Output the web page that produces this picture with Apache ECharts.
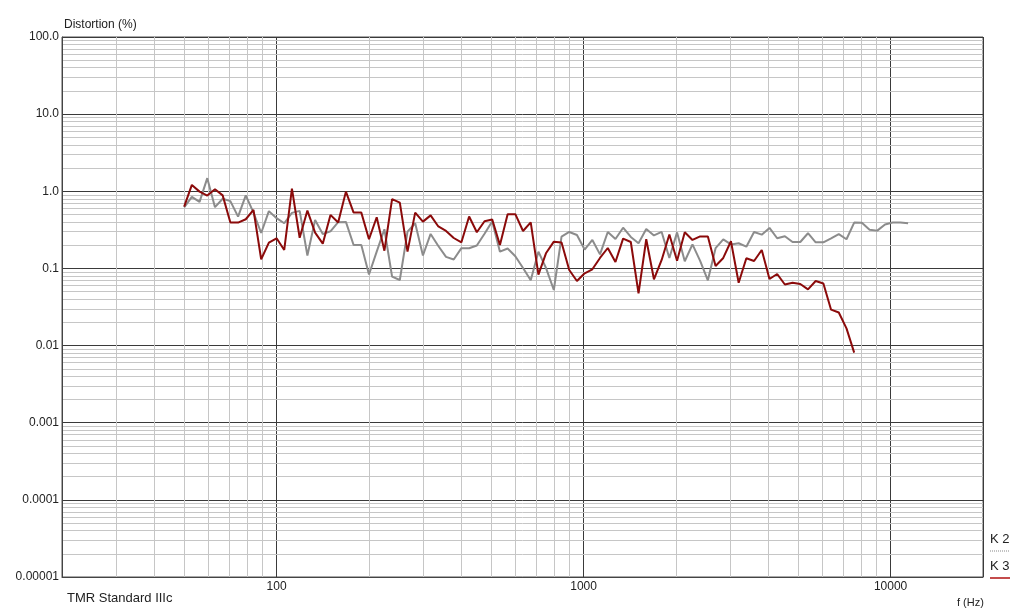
<!DOCTYPE html>
<html>
<head>
<meta charset="utf-8">
<script src="https://cdn.jsdelivr.net/npm/echarts@6/dist/echarts.min.js"></script>
<style>
html,body{margin:0;padding:0;background:#fff;}
#chart{width:1024px;height:613px;}
</style>
</head>
<body>
<div id="chart"></div>
<script>
// Frequencies (Hz), 1/12-octave points
const freqs = [50, 52.97, 56.12, 59.46, 63, 66.74, 70.71, 74.92, 79.37, 84.09, 89.09, 94.39,
  100, 105.9, 112.2, 118.9, 126, 133.5, 141.4, 149.8, 158.7, 168.2, 178.2, 188.8,
  200, 211.9, 224.5, 237.8, 252, 267, 282.8, 299.7, 317.5, 336.4, 356.4, 377.6,
  400, 423.8, 449, 475.7, 504, 534, 565.7, 599.3, 635, 672.7, 712.7, 755.1,
  800, 847.6, 898, 951.4, 1008, 1068, 1131, 1199, 1270, 1345, 1425, 1510,
  1600, 1695, 1796, 1903, 2016, 2136, 2263, 2397, 2540, 2691, 2851, 3020,
  3200, 3390, 3592, 3805, 4032, 4271, 4525, 4794, 5080, 5382, 5702, 6041,
  6400, 6781, 7184, 7611, 8063, 8543, 9051, 9589, 10159, 10763, 11404];

// K2 distortion (%)
const k2 = [0.618, 0.846, 0.729, 1.479, 0.622, 0.80, 0.746, 0.47, 0.885, 0.529, 0.288, 0.553,
  0.448, 0.385, 0.525, 0.557, 0.147, 0.425, 0.28, 0.303, 0.398, 0.401, 0.2015, 0.2015,
  0.0835, 0.165, 0.322, 0.0782, 0.0708, 0.30, 0.385, 0.147, 0.28, 0.1955, 0.141, 0.1306,
  0.183, 0.183, 0.1985, 0.282, 0.407, 0.165, 0.181, 0.144, 0.1014, 0.0702, 0.165, 0.1004,
  0.0525, 0.258, 0.297, 0.2716, 0.1757, 0.234, 0.152, 0.297, 0.241, 0.337, 0.256, 0.212,
  0.325, 0.268, 0.297, 0.1367, 0.293, 0.124, 0.2047, 0.125, 0.0702, 0.183, 0.2375, 0.2047,
  0.212, 0.1915, 0.297, 0.274, 0.335, 0.246, 0.2615, 0.220, 0.220, 0.286, 0.218, 0.218,
  0.245, 0.2785, 0.239, 0.393, 0.390, 0.318, 0.309, 0.3715, 0.393, 0.393, 0.385];

// K3 distortion (%)
const k3 = [0.633, 1.21, 0.99, 0.88, 1.06, 0.885, 0.393, 0.393, 0.434, 0.574, 0.1315, 0.216,
  0.246, 0.1735, 1.084, 0.25, 0.562, 0.291, 0.2095, 0.494, 0.393, 0.99, 0.529, 0.529,
  0.239, 0.461, 0.170, 0.79, 0.713, 0.165, 0.529, 0.404, 0.487, 0.350, 0.306, 0.248,
  0.218, 0.472, 0.294, 0.409, 0.43, 0.2015, 0.505, 0.505, 0.306, 0.395, 0.083, 0.1587,
  0.2225, 0.217, 0.0955, 0.0687, 0.0865, 0.0975, 0.1367, 0.184, 0.121, 0.243, 0.220, 0.0476,
  0.239, 0.0723, 0.1288, 0.276, 0.126, 0.294, 0.234, 0.26, 0.26, 0.1076, 0.1367, 0.225,
  0.0653, 0.1355, 0.125, 0.1735, 0.073, 0.0847, 0.0619, 0.0653, 0.0629, 0.0536, 0.0687, 0.0638,
  0.0292, 0.0268, 0.0167, 0.0081];

const yTickLabels = ['0.00001', '0.0001', '0.001', '0.01', '0.1', '1.0', '10.0', '100.0'];
const xTickLabels = ['100', '1000', '10000'];

const xMin = 20, xMax = 20000, yMin = 0.00001, yMax = 100;

// minor grid positions (2..9 of each decade)
const minorX = [];
[10, 100, 1000, 10000].forEach(d => { for (let k = 2; k <= 9; k++) { const v = d * k; if (v > xMin && v < xMax) minorX.push(v); } });
const minorY = [];
[1e-5, 1e-4, 1e-3, 1e-2, 1e-1, 1, 10].forEach(d => { for (let k = 2; k <= 9; k++) minorY.push(parseFloat((d * k).toPrecision(6))); });

const minorLines = minorX.map(v => ({coords: [[v, yMin], [v, yMax]]}))
  .concat(minorY.map(v => ({coords: [[xMin, v], [xMax, v]]})));

const chart = echarts.init(document.getElementById('chart'), null, {renderer: 'canvas'});
const font = 'Liberation Sans, Arial, sans-serif';

function isDecade(v) {
  const l = Math.log10(v);
  return Math.abs(l - Math.round(l)) < 1e-6;
}

chart.setOption({
  animation: false,
  backgroundColor: '#ffffff',
  grid: {left: 62, right: 41, top: 37, bottom: 36, show: true, borderColor: '#555', borderWidth: 1, backgroundColor: 'transparent'},
  xAxis: {
    type: 'log', logBase: 10, min: xMin, max: xMax,
    axisLine: {show: true, lineStyle: {color: '#444', width: 1}},
    axisTick: {show: false},
    splitLine: {show: true, lineStyle: {color: '#3a3a3a', width: 1}},
    axisLabel: {
      color: '#222', fontFamily: font, fontSize: 12, margin: 4,
      formatter: v => {
        if (!isDecade(v)) return '';
        const e = Math.round(Math.log10(v));
        return (e >= 2 && e <= 4) ? xTickLabels[e - 2] : '';
      }
    }
  },
  yAxis: {
    type: 'log', logBase: 10, min: yMin, max: yMax,
    axisLine: {show: true, lineStyle: {color: '#444', width: 1}},
    axisTick: {show: false},
    splitLine: {show: true, lineStyle: {color: '#3a3a3a', width: 1}},
    axisLabel: {
      color: '#222', fontFamily: font, fontSize: 12, margin: 3,
      formatter: v => {
        if (!isDecade(v)) return '';
        const e = Math.round(Math.log10(v));
        return yTickLabels[e + 5] || '';
      }
    }
  },
  series: [
    {
      name: 'minorGrid', type: 'lines', coordinateSystem: 'cartesian2d',
      silent: true, z: 0, zlevel: 0,
      lineStyle: {color: '#c6c6c6', width: 1, opacity: 1},
      data: minorLines
    },
    {
      name: 'K 2', type: 'line', z: 3,
      data: k2.map((v, i) => [freqs[i], v]),
      showSymbol: false, symbol: 'none',
      lineStyle: {color: '#8c8c8c', width: 2},
      itemStyle: {color: '#8c8c8c'}
    },
    {
      name: 'K 3', type: 'line', z: 4,
      data: k3.map((v, i) => [freqs[i], v]),
      showSymbol: false, symbol: 'none',
      lineStyle: {color: '#8b0a0a', width: 2},
      itemStyle: {color: '#8b0a0a'}
    }
  ],
  graphic: [
    {type: 'text', left: 64, top: 19, style: {text: 'Distortion (%)', fill: '#222', font: '12px ' + font}},
    {type: 'text', left: 67, top: 592, style: {text: 'TMR Standard IIIc', fill: '#222', font: '13px ' + font}},
    {type: 'text', left: 957, top: 597, style: {text: 'f (Hz)', fill: '#222', font: '11px ' + font}},
    {type: 'text', left: 990, top: 533, style: {text: 'K 2', fill: '#222', font: '13px ' + font}},
    {type: 'line', shape: {x1: 990, y1: 551, x2: 1010, y2: 551}, style: {stroke: '#888', lineWidth: 1, lineDash: [1, 1]}},
    {type: 'text', left: 990, top: 560, style: {text: 'K 3', fill: '#222', font: '13px ' + font}},
    {type: 'line', shape: {x1: 990, y1: 578, x2: 1010, y2: 578}, style: {stroke: '#b01010', lineWidth: 1.5}}
  ]
});
</script>
</body>
</html>
